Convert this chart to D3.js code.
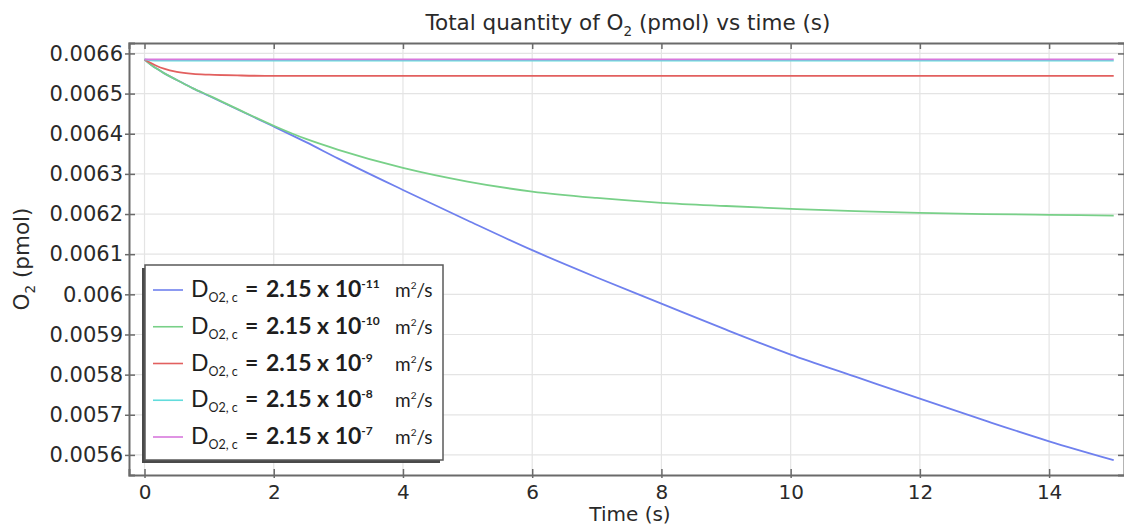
<!DOCTYPE html>
<html>
<head>
<meta charset="utf-8">
<script src="https://cdn.jsdelivr.net/npm/d3@7"></script>
<style>
  html, body { margin: 0; padding: 0; background: #fff; }
  svg { display: block; }
</style>
</head>
<body>
<svg id="chart" width="1124" height="528"></svg>
<script>
// Sample times (s)
const time = [0, 0.1, 0.2, 0.3, 0.5, 0.75, 1, 1.5, 2, 2.5, 3, 4, 5, 6, 7, 8, 9, 10, 11, 12, 13, 14, 15];

// Total O2 (pmol) for each diffusion coefficient
const o2_D11 = [0.006585, 0.006572, 0.006561, 0.006551, 0.006534, 0.006513, 0.006494, 0.006456, 0.006418, 0.006379, 0.006338, 0.006260, 0.006184, 0.006110, 0.006042, 0.005977, 0.005912, 0.005850, 0.005795, 0.005740, 0.005686, 0.005634, 0.005587];
const o2_D10 = [0.006585, 0.006572, 0.006561, 0.006551, 0.006534, 0.006513, 0.006495, 0.006457, 0.006420, 0.006387, 0.006360, 0.006315, 0.006281, 0.006256, 0.006240, 0.006228, 0.006220, 0.006213, 0.006207, 0.006203, 0.006200, 0.006198, 0.006196];
const o2_D9  = [0.006585, 0.006576, 0.006568, 0.006562, 0.006554, 0.006549, 0.006547, 0.006545, 0.006544, 0.006544, 0.006544, 0.006544, 0.006544, 0.006544, 0.006544, 0.006544, 0.006544, 0.006544, 0.006544, 0.006544, 0.006544, 0.006544, 0.006544];
const o2_D8  = [0.006585, 0.006583, 0.006582, 0.006582, 0.006582, 0.006582, 0.006582, 0.006582, 0.006582, 0.006582, 0.006582, 0.006582, 0.006582, 0.006582, 0.006582, 0.006582, 0.006582, 0.006582, 0.006582, 0.006582, 0.006582, 0.006582, 0.006582];
const o2_D7  = [0.006585, 0.006585, 0.006585, 0.006585, 0.006585, 0.006585, 0.006585, 0.006585, 0.006585, 0.006585, 0.006585, 0.006585, 0.006585, 0.006585, 0.006585, 0.006585, 0.006585, 0.006585, 0.006585, 0.006585, 0.006585, 0.006585, 0.006585];

// Legend exponents (D = 2.15 x 10^exp m^2/s)
const exponents = ["-11", "-10", "-9", "-8", "-7"];

// Axis ticks
const xTicks = [0, 2, 4, 6, 8, 10, 12, 14];
const yTicks = [0.0056, 0.0057, 0.0058, 0.0059, 0.006, 0.0061, 0.0062, 0.0063, 0.0064, 0.0065, 0.0066];

const seriesValues = [o2_D11, o2_D10, o2_D9, o2_D8, o2_D7];
const colors = ["#6f80ee", "#78d088", "#e2605f", "#62dcdc", "#d878dc"];

const svg = d3.select("#chart");
const plot = { left: 129, right: 1126, top: 43, bottom: 475 };

const x = d3.scaleLinear().domain([-0.24, 15.19]).range([plot.left, plot.right]);
const y = d3.scaleLinear().domain([0.00555, 0.006626]).range([plot.bottom, plot.top]);

// Grid
const grid = svg.append("g").attr("stroke", "#e4e4e4").attr("stroke-width", 1.2);
grid.selectAll("line.gx").data(xTicks).join("line")
  .attr("x1", d => x(d)).attr("x2", d => x(d))
  .attr("y1", plot.top).attr("y2", plot.bottom);
grid.selectAll("line.gy").data(yTicks).join("line")
  .attr("x1", plot.left).attr("x2", plot.right)
  .attr("y1", d => y(d)).attr("y2", d => y(d));

// Curves
const line = d3.line().x((d, i) => x(time[i])).y(d => y(d)).curve(d3.curveMonotoneX);
svg.append("g").selectAll("path").data(seriesValues).join("path")
  .attr("d", d => line(d))
  .attr("fill", "none")
  .attr("stroke", (d, i) => colors[i])
  .attr("stroke-width", 1.8);

// Axes: frame on all sides, ticks crossing the frame
const tickFmt = d => String(+d.toFixed(4));
const axisColor = "#6a6a6a";

const gx = svg.append("g").attr("transform", `translate(0,${plot.bottom})`)
  .call(d3.axisBottom(x).tickValues(xTicks).tickSize(-6).tickPadding(10).tickFormat(d3.format("d")));
const gxTop = svg.append("g").attr("transform", `translate(0,${plot.top})`)
  .call(d3.axisTop(x).tickValues(xTicks).tickSize(-6).tickFormat(""));
const gy = svg.append("g").attr("transform", `translate(${plot.left},0)`)
  .call(d3.axisLeft(y).tickValues(yTicks).tickSize(-6).tickPadding(6).tickFormat(tickFmt));
const gyRight = svg.append("g").attr("transform", `translate(${plot.right - 2},0)`)
  .call(d3.axisRight(y).tickValues(yTicks).tickSize(-6).tickFormat(""));

gy.selectAll(".tick line").attr("x1", -4);
gx.selectAll(".tick line").attr("y1", 3);

[gx, gxTop, gy, gyRight].forEach(g => {
  g.select(".domain").attr("stroke", axisColor).attr("stroke-width", 2);
  g.selectAll(".tick line").attr("stroke", axisColor).attr("stroke-width", 1.5);
  g.selectAll(".tick text")
    .attr("fill", "#2a2a2a")
    .attr("font-family", "DejaVu Sans, sans-serif")
    .attr("font-size", 21);
});
gx.selectAll(".tick text").attr("font-size", 20);

// Title
const title = svg.append("text")
  .attr("x", 628).attr("y", 30)
  .attr("text-anchor", "middle")
  .attr("font-family", "DejaVu Sans, sans-serif")
  .attr("font-size", 21.5).attr("fill", "#2a2a2a");
title.append("tspan").text("Total quantity of O");
title.append("tspan").attr("font-size", 13.5).attr("dy", 6).text("2");
title.append("tspan").attr("dy", -6).text(" (pmol) vs time (s)");

// X label
svg.append("text")
  .attr("x", 630).attr("y", 521)
  .attr("text-anchor", "middle")
  .attr("font-family", "DejaVu Sans, sans-serif")
  .attr("font-size", 20).attr("fill", "#2a2a2a")
  .text("Time (s)");

// Y label
const ylab = svg.append("text")
  .attr("transform", `translate(29,${(plot.top + plot.bottom) / 2}) rotate(-90)`)
  .attr("text-anchor", "middle")
  .attr("font-family", "DejaVu Sans, sans-serif")
  .attr("font-size", 21.5).attr("fill", "#2a2a2a");
ylab.append("tspan").text("O");
ylab.append("tspan").attr("font-size", 13.5).attr("dy", 6).text("2");
ylab.append("tspan").attr("dy", -6).text(" (pmol)");

// Legend
const lg = { x: 145, y: 265, w: 298, h: 195 };
const legend = svg.append("g");
legend.append("rect")
  .attr("x", lg.x - 3).attr("y", lg.y + 3).attr("width", lg.w).attr("height", lg.h)
  .attr("fill", "#4a4a4a");
legend.append("rect")
  .attr("x", lg.x).attr("y", lg.y).attr("width", lg.w).attr("height", lg.h)
  .attr("fill", "#fff").attr("stroke", "#5a5a5a").attr("stroke-width", 1.5);

const rowY = d3.scalePoint().domain(d3.range(exponents.length)).range([lg.y + 25, lg.y + 172]);
const rows = legend.selectAll("g.row").data(exponents).join("g")
  .attr("transform", (d, i) => `translate(0,${rowY(i)})`);
rows.append("line")
  .attr("x1", lg.x + 8).attr("x2", lg.x + 38)
  .attr("stroke", (d, i) => colors[i]).attr("stroke-width", 1.6);

const lgFont = "Lato, 'Open Sans', sans-serif";
const t = rows.append("text").attr("font-family", lgFont).attr("fill", "#1e1e1e").attr("y", 7);
t.append("tspan").attr("x", 191).attr("font-size", 23).text("D");
t.append("tspan").attr("x", 208.5).attr("dy", 5).attr("font-size", 12.5).text("O2, c");
t.append("tspan").attr("x", 245).attr("dy", -5).attr("font-size", 23).attr("font-weight", "bold").text("=");
t.append("tspan").attr("x", 266).attr("font-size", 23).attr("font-weight", "bold").text("2.15 x 10");
t.append("tspan").attr("dy", -9).attr("font-size", 12).attr("font-weight", "bold").text(d => d);
t.append("tspan").attr("x", 395).attr("dy", 9).attr("font-size", 19).text("m");
t.append("tspan").attr("dy", -8).attr("font-size", 10).text("2");
t.append("tspan").attr("dy", 8).attr("font-size", 19).text("/s");
</script>
</body>
</html>
